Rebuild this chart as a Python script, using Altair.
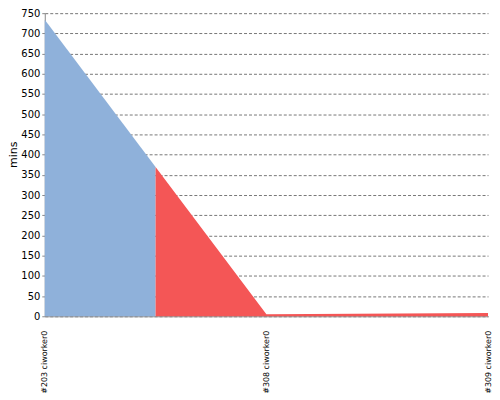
import altair as alt
import pandas as pd

builds = ["#203 ciworker0", "#308 ciworker0", "#309 ciworker0"]
mins = [734, 5, 8]
status_colors = ["#8FB1DA", "#F45656"]

# split the first segment at its midpoint: first half blue, rest red
mid_val = (mins[0] + mins[1]) / 2
blue = pd.DataFrame({"x": [0, 0.5], "y": [mins[0], mid_val]})
red = pd.DataFrame({"x": [0.5, 1, 2], "y": [mid_val, mins[1], mins[2]]})

label_expr = ("datum.value == 0 ? '%s' : datum.value == 1 ? '%s' : datum.value == 2 ? '%s' : ''"
              % tuple(builds))

x_enc = alt.X("x:Q", scale=alt.Scale(domain=[0, 2], nice=False, zero=False),
              axis=alt.Axis(values=[0, 1, 2], labelExpr=label_expr, labelAngle=270,
                            grid=False, ticks=False, domainColor="#888888",
                            labelFontSize=8, labelFont="DejaVu Sans", labelColor="#000",
                            labelPadding=14, title=None))
y_enc = alt.Y("y:Q", scale=alt.Scale(domain=[0, 750], nice=False),
              axis=alt.Axis(values=list(range(0, 751, 50)), title="mins",
                            titleFont="DejaVu Sans", titleFontSize=11, titleFontWeight="normal",
                            titleColor="#000", titleX=-26, titleY=142,
                            labelFont="DejaVu Sans", labelFontSize=10, labelColor="#000",
                            tickSize=3, tickColor="#888888", domainColor="#888888",
                            gridDash=[3, 2], gridColor="#777777", gridOpacity=1))

a1 = alt.Chart(blue).mark_area(color=status_colors[0], opacity=1).encode(x=x_enc, y=y_enc)
a2 = alt.Chart(red).mark_area(color=status_colors[1], opacity=1).encode(x=x_enc, y=y_enc)

chart = alt.layer(a1, a2).properties(
    width=446, height=305,
    autosize=alt.AutoSizeParams(type="none"),
    padding={"top": 4, "left": 37, "right": 4, "bottom": 76},
).configure_view(stroke=None)

chart.save("out.html", embed_options={"renderer": "svg", "actions": False})
